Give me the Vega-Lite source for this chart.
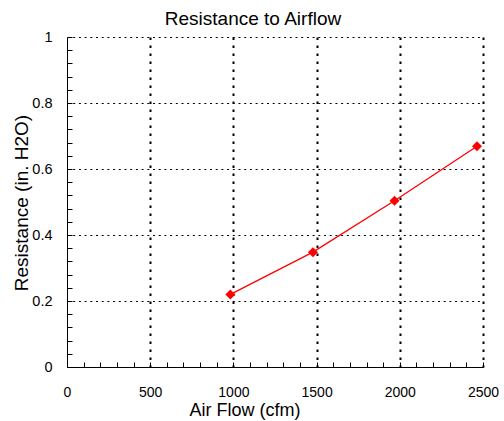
{
  "$schema": "https://vega.github.io/schema/vega-lite/v6.json",
  "width": 416,
  "height": 330,
  "autosize": {"type": "none"},
  "padding": {"left": 67, "top": 37, "right": 21, "bottom": 54},
  "background": "white",
  "title": {
    "text": "Resistance to Airflow",
    "font": "Liberation Sans",
    "fontSize": 19,
    "fontWeight": "normal",
    "color": "black",
    "anchor": "middle",
    "frame": "group",
    "baseline": "alphabetic",
    "offset": -15,
    "dx": -22
  },
  "data": {
    "values": [
      {"flow": 982, "resistance": 0.220},
      {"flow": 1478, "resistance": 0.348},
      {"flow": 1968, "resistance": 0.504},
      {"flow": 2464, "resistance": 0.669}
    ]
  },
  "encoding": {
    "x": {
      "field": "flow",
      "type": "quantitative",
      "scale": {"domain": [0, 2500], "nice": false, "zero": true},
      "axis": {
        "title": "Air Flow (cfm)",
        "values": [0,100,200,300,400,500,600,700,800,900,1000,1100,1200,1300,1400,1500,1600,1700,1800,1900,2000,2100,2200,2300,2400,2500],
        "format": "d",
        "labelExpr": "datum.value % 500 === 0 ? datum.label : ''",
        "labelFont": "Liberation Sans",
        "labelFontSize": 14,
        "labelColor": "black",
        "labelPadding": 23,
        "labelFlush": false,
        "labelOverlap": false,
        "tickSize": -5,
        "tickColor": "black",
        "tickWidth": 1,
        "domainColor": "black",
        "domainWidth": 1,
        "grid": true,
        "gridColor": "black",
        "gridWidth": 2,
        "gridDash": [2.5, 5.5],
        "gridOpacity": {"condition": {"test": "datum.value % 500 === 0 && datum.value > 0", "value": 1}, "value": 0},
        "titleFont": "Liberation Sans",
        "titleFontSize": 18,
        "titleFontWeight": "normal",
        "titleColor": "black",
        "titleX": 177.5,
        "titleY": 48.5,
        "titleAlign": "center",
        "titleBaseline": "alphabetic",
        "titleAngle": 0
      }
    },
    "y": {
      "field": "resistance",
      "type": "quantitative",
      "scale": {"domain": [0, 1], "nice": false},
      "axis": {
        "title": "Resistance (in. H2O)",
        "values": [0,0.04,0.08,0.12,0.16,0.2,0.24,0.28,0.32,0.36,0.4,0.44,0.48,0.52,0.56,0.6,0.64,0.68,0.72,0.76,0.8,0.84,0.88,0.92,0.96,1],
        "labelExpr": "abs(datum.value*5 - round(datum.value*5)) < 0.000001 ? format(datum.value, '') : ''",
        "labelFont": "Liberation Sans",
        "labelFontSize": 14.5,
        "labelColor": "black",
        "labelPadding": 20,
        "labelFlush": false,
        "labelOverlap": false,
        "labelBaseline": "middle",
        "tickSize": -5,
        "tickColor": "black",
        "tickWidth": 1,
        "domainColor": "black",
        "domainWidth": 1,
        "grid": true,
        "gridColor": "black",
        "gridWidth": 1,
        "gridDash": [2, 3.7],
        "gridOpacity": {"condition": {"test": "abs(datum.value*5 - round(datum.value*5)) < 0.000001 && datum.value > 0", "value": 1}, "value": 0},
        "titleFont": "Liberation Sans",
        "titleFontSize": 19,
        "titleFontWeight": "normal",
        "titleColor": "black",
        "titleX": -40,
        "titleY": 165.5,
        "titleAlign": "center",
        "titleBaseline": "alphabetic",
        "titleAngle": -90
      }
    }
  },
  "layer": [
    {"mark": {"type": "line", "color": "red", "strokeWidth": 1.3}},
    {"mark": {"type": "point", "shape": "diamond", "filled": true, "color": "red", "opacity": 1, "size": 100}}
  ],
  "config": {"view": {"stroke": null}}
}
